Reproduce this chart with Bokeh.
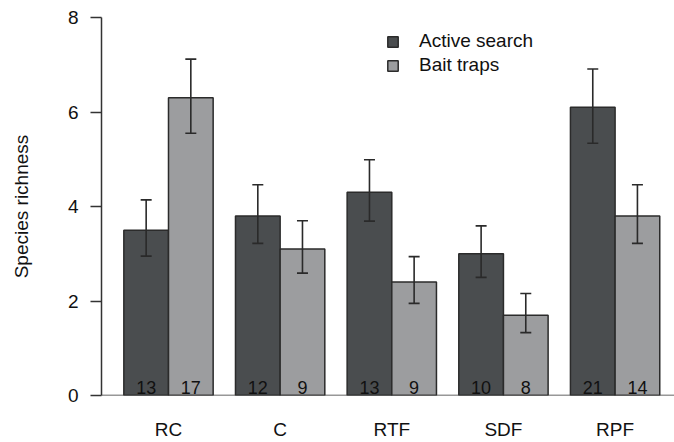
from bokeh.plotting import figure
from bokeh.models import Range1d, FixedTicker, ColumnDataSource, Whisker, TeeHead, Span, Legend, LegendItem
from bokeh.embed import file_html
from bokeh.resources import INLINE
from bokeh.core.properties import value

categories = ["RC", "C", "RTF", "SDF", "RPF"]
series_names = ["Active search", "Bait traps"]
active_mean = [3.5, 3.8, 4.3, 3.0, 6.1]
active_upper = [4.14, 4.46, 4.99, 3.59, 6.91]
active_lower = [2.95, 3.22, 3.69, 2.50, 5.34]
bait_mean = [6.3, 3.1, 2.4, 1.7, 3.8]
bait_upper = [7.12, 3.70, 2.94, 2.16, 4.46]
bait_lower = [5.55, 2.59, 1.95, 1.33, 3.22]
active_n = ["13", "12", "13", "10", "21"]
bait_n = ["17", "9", "9", "8", "14"]
y_ticks = [0, 2, 4, 6, 8]

FONT = "Liberation Sans"
DARK = "#4a4d4f"
LIGHT = "#9c9d9f"
EDGE = "#2b2b2b"

# R-style beside barplot positions: bar width 1, group gap 0.5
group_start = [0.5 + 2.5 * i for i in range(len(categories))]
x_active = [g + 0.5 for g in group_start]
x_bait = [g + 1.5 for g in group_start]
x_center = [g + 1.0 for g in group_start]

W, H = 674, 442
p = figure(width=W, height=H, output_backend="svg", toolbar_location=None,
           x_range=Range1d(0, 12.83), y_range=Range1d(0, 8),
           min_border_left=101, min_border_right=0, min_border_top=17, min_border_bottom=47)
p.outline_line_color = None
p.grid.visible = False
p.background_fill_color = "white"
p.border_fill_color = "white"

src_a = ColumnDataSource(dict(x=x_active, top=active_mean, up=active_upper, lo=active_lower, n=active_n))
src_b = ColumnDataSource(dict(x=x_bait, top=bait_mean, up=bait_upper, lo=bait_lower, n=bait_n))

ra = p.vbar(x="x", top="top", bottom=0, width=1.0, source=src_a, fill_color=DARK, line_color=EDGE, line_width=1.5)
rb = p.vbar(x="x", top="top", bottom=0, width=1.0, source=src_b, fill_color=LIGHT, line_color=EDGE, line_width=1.5)

for src in (src_a, src_b):
    w = Whisker(base="x", upper="up", lower="lo", source=src, line_color="#2a2a2a", line_width=1.6,
                level="overlay",
                upper_head=TeeHead(size=11, line_color="#2a2a2a", line_width=1.6),
                lower_head=TeeHead(size=11, line_color="#2a2a2a", line_width=1.6))
    p.add_layout(w)
    p.text(x="x", y=0, text="n", source=src, text_font=value(FONT), text_font_size="18px",
           text_align="center", text_baseline="bottom", text_color="#111111", y_offset=-2)

p.add_layout(Span(location=0, dimension="width", line_color="#333333", line_width=1.5))

# y axis
ya = p.yaxis[0]
ya.ticker = FixedTicker(ticks=y_ticks)
ya.minor_tick_line_color = None
ya.major_tick_out = 11
ya.major_tick_in = 0
ya.major_tick_line_color = "#333333"
ya.major_tick_line_width = 1.5
ya.axis_line_color = "#333333"
ya.axis_line_width = 1.5
ya.major_label_text_font = FONT
ya.major_label_text_font_size = "19px"
ya.major_label_text_color = "#111111"
ya.major_label_standoff = 12
ya.axis_label = "Species richness"
ya.axis_label_text_font = FONT
ya.axis_label_text_font_size = "19px"
ya.axis_label_text_font_style = "normal"
ya.axis_label_text_color = "#111111"
ya.axis_label_standoff = 33

# x axis
xa = p.xaxis[0]
xa.ticker = FixedTicker(ticks=x_center)
xa.major_label_overrides = {x: c for x, c in zip(x_center, categories)}
xa.axis_line_color = None
xa.major_tick_line_color = None
xa.minor_tick_line_color = None
xa.major_label_text_font = FONT
xa.major_label_text_font_size = "19px"
xa.major_label_text_color = "#111111"
xa.major_label_standoff = 17

legend = Legend(items=[LegendItem(label=series_names[0], renderers=[ra]),
                       LegendItem(label=series_names[1], renderers=[rb])],
                location=(285, 319), border_line_color=None, background_fill_alpha=0,
                label_text_font=FONT, label_text_font_size="19px", label_text_color="#111111",
                glyph_width=13, glyph_height=13, spacing=2, label_standoff=20, padding=0, margin=0)
p.add_layout(legend)

open("out.html", "w").write(file_html(p, INLINE))
